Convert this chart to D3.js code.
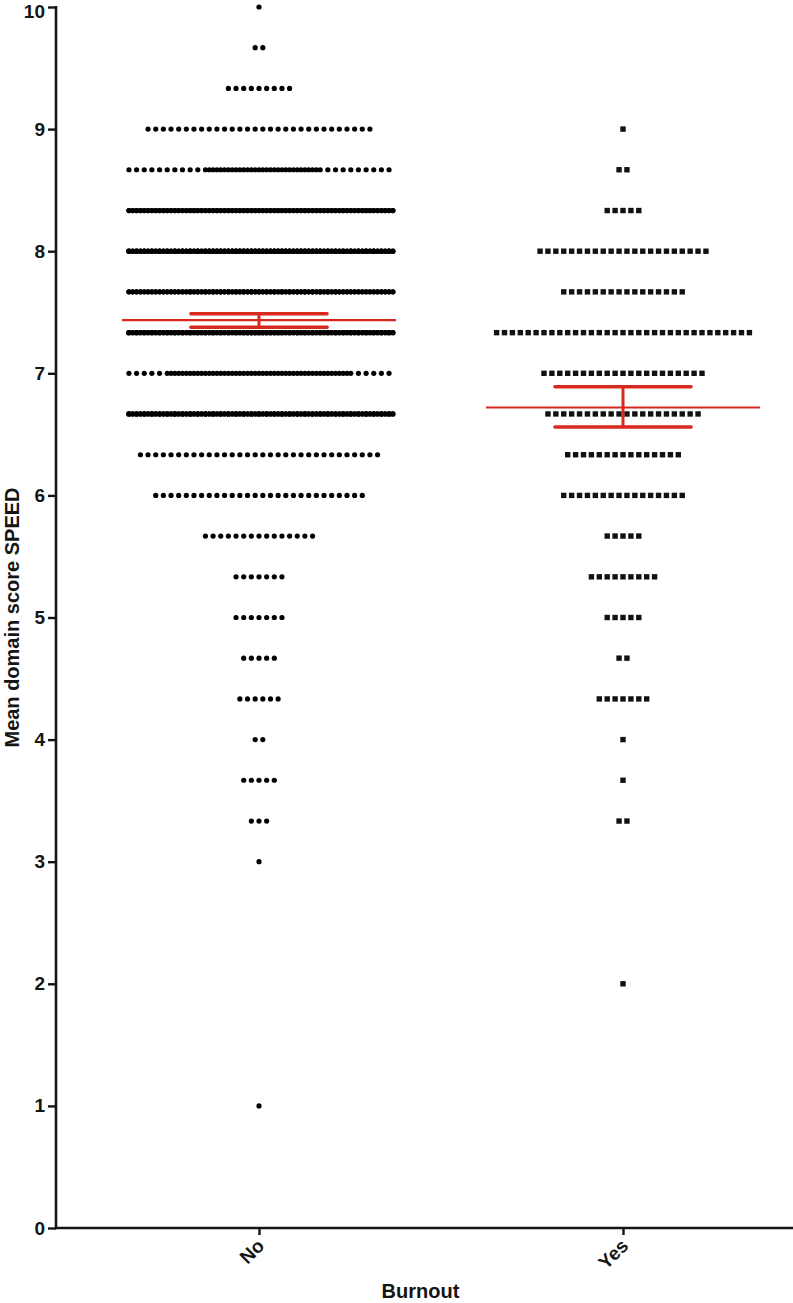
<!DOCTYPE html>
<html><head><meta charset="utf-8">
<script src="https://cdn.jsdelivr.net/npm/d3@7"></script>
<style>body{margin:0;background:#fff}svg{display:block}</style>
</head><body>
<svg id="chart" width="793" height="1303"></svg>
<script>
// ---- data ----
const groups = ["No", "Yes"];
const levelsNo = [10, 9.667, 9.333, 9, 8.667, 8.333, 8, 7.667, 7.333, 7, 6.667, 6.333, 6, 5.667, 5.333, 5, 4.667, 4.333, 4, 3.667, 3.333, 3, 1];
const countsNo = [1, 2, 9, 30, 50, 140, 190, 160, 180, 59, 175, 32, 28, 15, 7, 7, 5, 6, 2, 5, 3, 1, 1];
const levelsYes = [9, 8.667, 8.333, 8, 7.667, 7.333, 7, 6.667, 6.333, 6, 5.667, 5.333, 5, 4.667, 4.333, 4, 3.667, 3.333, 2];
const countsYes = [1, 2, 5, 22, 16, 33, 21, 20, 15, 16, 5, 9, 5, 2, 7, 1, 1, 2, 1];
const means = [7.436, 6.72];
const ciLow = [7.377, 6.56];
const ciHigh = [7.488, 6.89];
const yTicks = [0, 1, 2, 3, 4, 5, 6, 7, 8, 9, 10];
const yTitle = "Mean domain score SPEED";
const xTitle = "Burnout";

// ---- layout ----
const axisX = 56, axisY = 1228, rightEnd = 793;
const svg = d3.select("#chart");
const y = d3.scaleLinear().domain([0, 10]).range([axisY, 7]);
const x = d3.scalePoint().domain(groups).range([259, 623]);
const FONT = "'Liberation Sans', Arial, Helvetica, sans-serif";
const RED = "#d8291f";
const INK = "#151515";

// Prism-like row layout: rows are capped at maxPer points; extra points form
// additional overlapping layers, interleaved by half a pitch.
function rowOffsets(n, maxPer, pitch) {
  const out = [];
  let remaining = n, layer = 0, f0 = null;
  while (remaining > 0) {
    const k = Math.min(maxPer, remaining);
    const f = ((k - 1) / 2) % 1;
    if (f0 === null) f0 = f;
    const want = (f0 + (layer % 2) * 0.5) % 1;
    const adj = (want - f + 1) % 1;
    for (let i = 0; i < k; i++) out.push((i - (k - 1) / 2 + adj) * pitch);
    remaining -= k; layer++;
  }
  return out;
}

const ptsNo = [];
levelsNo.forEach((v, j) => rowOffsets(countsNo[j], 35, 7.65).forEach(dx => ptsNo.push({v, dx})));
const ptsYes = [];
levelsYes.forEach((v, j) => rowOffsets(countsYes[j], 34, 7.9).forEach(dx => ptsYes.push({v, dx})));

svg.append("g").selectAll("circle").data(ptsNo).join("circle")
  .attr("cx", d => x("No") + d.dx).attr("cy", d => y(d.v))
  .attr("r", 2.6).attr("fill", "#000");

const sq = 5.4;
svg.append("g").selectAll("rect").data(ptsYes).join("rect")
  .attr("x", d => x("Yes") + d.dx - sq / 2).attr("y", d => y(d.v) - sq / 2)
  .attr("width", sq).attr("height", sq).attr("fill", "#111");

// ---- mean & 95% CI ----
const gE = svg.append("g").attr("stroke", RED).attr("fill", "none");
groups.forEach((g, i) => {
  const cx = x(g);
  gE.append("line").attr("x1", cx - 137).attr("x2", cx + 137)
    .attr("y1", y(means[i])).attr("y2", y(means[i])).attr("stroke-width", 2.2);
  gE.append("line").attr("x1", cx).attr("x2", cx)
    .attr("y1", y(ciLow[i])).attr("y2", y(ciHigh[i])).attr("stroke-width", 3);
  [ciLow[i], ciHigh[i]].forEach(v => {
    gE.append("line").attr("x1", cx - 68).attr("x2", cx + 68)
      .attr("y1", y(v)).attr("y2", y(v)).attr("stroke-width", 3.6)
      .attr("stroke-linecap", "round");
  });
});

// ---- axes ----
const yAxis = svg.append("g").attr("transform", `translate(${axisX},0)`)
  .call(d3.axisLeft(y).tickValues(yTicks).tickSize(8).tickPadding(3).tickSizeOuter(0));
yAxis.select(".domain").remove();
yAxis.selectAll(".tick line").attr("stroke", INK).attr("stroke-width", 2.4);
yAxis.selectAll(".tick text").attr("font-family", FONT).attr("font-weight", "bold")
  .attr("font-size", 19).attr("fill", INK)
  .attr("dy", d => d === 10 ? "0.56em" : "0.32em");
svg.append("line").attr("x1", axisX).attr("x2", axisX).attr("y1", y(10) - 1).attr("y2", axisY + 1.2)
  .attr("stroke", INK).attr("stroke-width", 2.6);

const xAxis = svg.append("g").attr("transform", `translate(0,${axisY})`)
  .call(d3.axisBottom(x).tickSize(7).tickSizeOuter(0));
xAxis.select(".domain").remove();
xAxis.selectAll(".tick line").attr("stroke", INK).attr("stroke-width", 2.4);
xAxis.selectAll(".tick text")
  .attr("font-family", FONT).attr("font-weight", "bold").attr("font-size", 19).attr("fill", INK)
  .attr("text-anchor", "end").attr("dy", null).attr("y", 0).attr("x", 0)
  .attr("transform", "translate(6,19) rotate(-45)");
svg.append("line").attr("x1", axisX - 1.3).attr("x2", rightEnd).attr("y1", axisY).attr("y2", axisY)
  .attr("stroke", INK).attr("stroke-width", 2.6);

// ---- titles ----
svg.append("text").attr("transform", `translate(19,${(y(0) + y(10)) / 2}) rotate(-90)`)
  .attr("text-anchor", "middle").attr("font-family", FONT).attr("font-weight", "bold")
  .attr("font-size", 20).attr("fill", INK).text(yTitle);
svg.append("text").attr("x", (axisX + rightEnd) / 2 - 4).attr("y", 1298)
  .attr("text-anchor", "middle").attr("font-family", FONT).attr("font-weight", "bold")
  .attr("font-size", 20).attr("fill", INK).text(xTitle);
</script>
</body></html>
